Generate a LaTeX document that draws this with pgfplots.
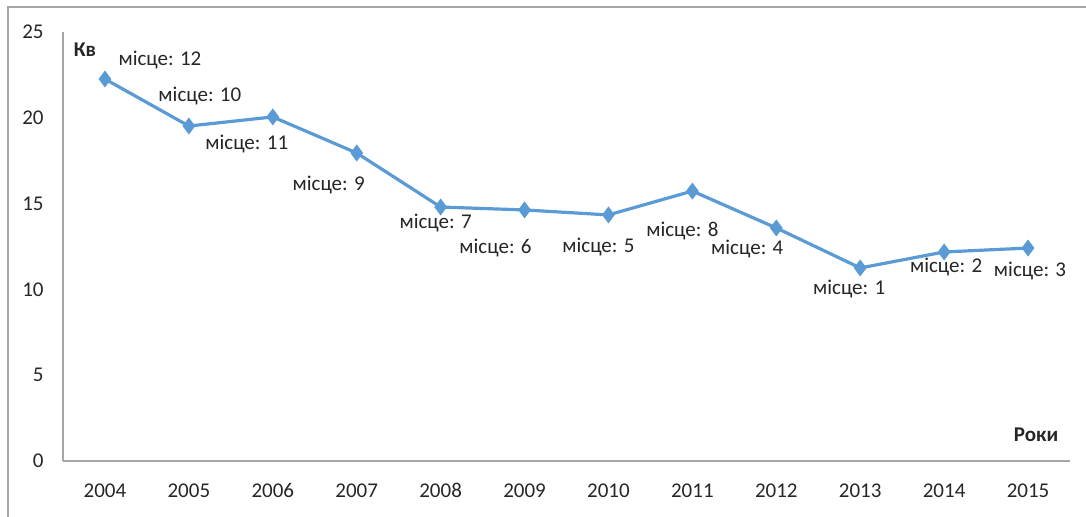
\documentclass[border=0pt]{standalone}
\usepackage{fontspec}
\setmainfont{Carlito}
\usepackage{pgfplots}
\pgfplotsset{compat=1.18}
\definecolor{lineblue}{HTML}{5B9BD5}
\definecolor{axgray}{HTML}{A6A6A6}
\definecolor{txt}{HTML}{262626}
\begin{document}
\fontsize{10.5}{12}\selectfont
\begin{tikzpicture}[x=1pt,y=1pt]
\path[use as bounding box] (0,0) rectangle (543,258.5);
\draw[axgray, line width=0.8pt] (4,0) -- (4,255) -- (543,255);
\begin{axis}[
  at={(31.5pt,28pt)}, anchor=south west,
  scale only axis, width=503.5pt, height=214.5pt,
  xmin=-0.5, xmax=11.5, ymin=0, ymax=25,
  axis lines*=left,
  axis line style={axgray, line width=0.8pt},
  major tick length=0pt,
  xtick={0,...,11},
  xticklabels={2004,2005,2006,2007,2008,2009,2010,2011,2012,2013,2014,2015},
  ytick={0,5,10,15,20,25},
  /pgf/number format/assume math mode=true,
  tick label style={font=\fontsize{10.5}{12}\selectfont, text=txt},
  yticklabel style={xshift=-6pt},
  xticklabel style={yshift=-7.5pt},
  clip=false,
]
\addplot[lineblue, line width=1.6pt, mark=diamond*, mark size=3.6pt,
  mark options={solid, fill=lineblue, line width=0.8pt}]
  coordinates {(0,22.26) (1,19.52) (2,20.05) (3,17.95) (4,14.80) (5,14.63)
               (6,14.34) (7,15.73) (8,13.58) (9,11.25) (10,12.18) (11,12.41)};
\begin{scope}[every node/.style={text=txt, font=\fontsize{10.5}{12}\selectfont, inner sep=0pt}]
\node at (axis cs:0,22.26)  [xshift=27.5pt, yshift=9.5pt]   {місце: 12};
\node at (axis cs:1,19.52)  [xshift=5.5pt,  yshift=15pt]    {місце: 10};
\node at (axis cs:2,20.05)  [xshift=-13pt,  yshift=-13.5pt] {місце: 11};
\node at (axis cs:3,17.95)  [xshift=-14pt,  yshift=-16pt]   {місце: 9};
\node at (axis cs:4,14.80)  [xshift=-2.5pt, yshift=-8pt]    {місце: 7};
\node at (axis cs:5,14.63)  [xshift=-14.5pt,yshift=-19pt]   {місце: 6};
\node at (axis cs:6,14.34)  [xshift=-5pt,   yshift=-16pt]   {місце: 5};
\node at (axis cs:7,15.73)  [xshift=-5pt,   yshift=-20pt]   {місце: 8};
\node at (axis cs:8,13.58)  [xshift=-14.5pt,yshift=-10.5pt] {місце: 4};
\node at (axis cs:9,11.25)  [xshift=-5.5pt, yshift=-10.5pt] {місце: 1};
\node at (axis cs:10,12.18) [xshift=1pt,    yshift=-7.5pt]  {місце: 2};
\node at (axis cs:11,12.41) [xshift=1pt,    yshift=-11.5pt] {місце: 3};
\end{scope}
\end{axis}
\node[text=txt, font=\bfseries\fontsize{10.5}{12}\selectfont] at (42.5,233.5) {Кв};
\node[text=txt, font=\bfseries\fontsize{10.5}{12}\selectfont] at (518,41) {Роки};
\end{tikzpicture}
\end{document}
